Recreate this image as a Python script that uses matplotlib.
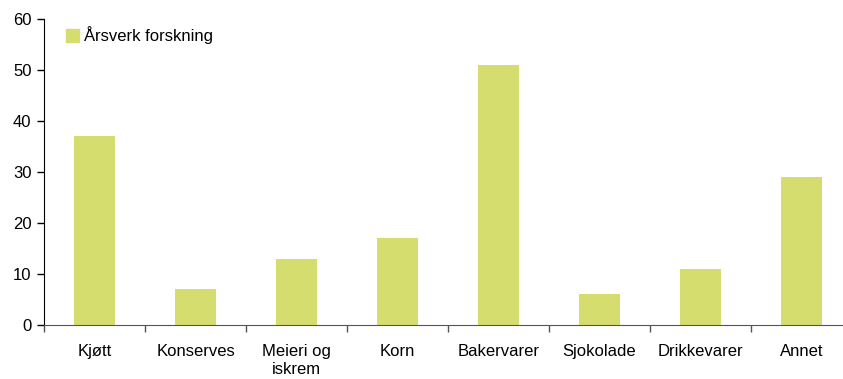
import matplotlib
matplotlib.use("Agg")
import matplotlib.pyplot as plt
from matplotlib.patches import Patch
import numpy as np

# data
categories = ["Kjøtt", "Konserves", "Meieri og\niskrem", "Korn", "Bakervarer",
              "Sjokolade", "Drikkevarer", "Annet"]
aarsverk = [37, 7, 13, 17, 51, 6, 11, 29]
series_name = "Årsverk forskning"
bar_color = "#D4DD6E"

plt.rcParams['font.family'] = ['Liberation Sans', 'DejaVu Sans']

W, H = 843, 379
fig = plt.figure(figsize=(W / 100, H / 100), dpi=100)
left, right, bottom, top = 44, 852, 325, 19
ax = fig.add_axes([left / W, (H - bottom) / H, (right - left) / W, (bottom - top) / H])

x = np.arange(len(categories))
ax.bar(x, aarsverk, width=0.4, color=bar_color)

ax.set_xlim(-0.5, len(categories) - 0.5)
ax.set_ylim(0, 60)
ax.set_yticks(range(0, 61, 10))
ax.tick_params(axis='y', direction='out', length=5, width=1, labelsize=12, pad=4)

# category labels centred, tick marks between categories
ax.set_xticks(x)
ax.set_xticklabels(categories, fontsize=12, linespacing=1.25)
ax.tick_params(axis='x', which='major', length=0, pad=14)
ax.set_xticks(np.arange(-0.5, len(categories), 1), minor=True)
ax.tick_params(axis='x', which='minor', direction='out', length=5, width=1, color='#555555')

ax.spines['top'].set_visible(False)
ax.spines['right'].set_visible(False)
ax.spines['bottom'].set_color('#555555')

ax.legend(handles=[Patch(color=bar_color, label=series_name)], loc='upper left',
          bbox_to_anchor=(0.009, 1.025), frameon=False, fontsize=12,
          handlelength=0.75, handleheight=0.75, handletextpad=0.3)

fig.savefig("out.png", dpi=100)
